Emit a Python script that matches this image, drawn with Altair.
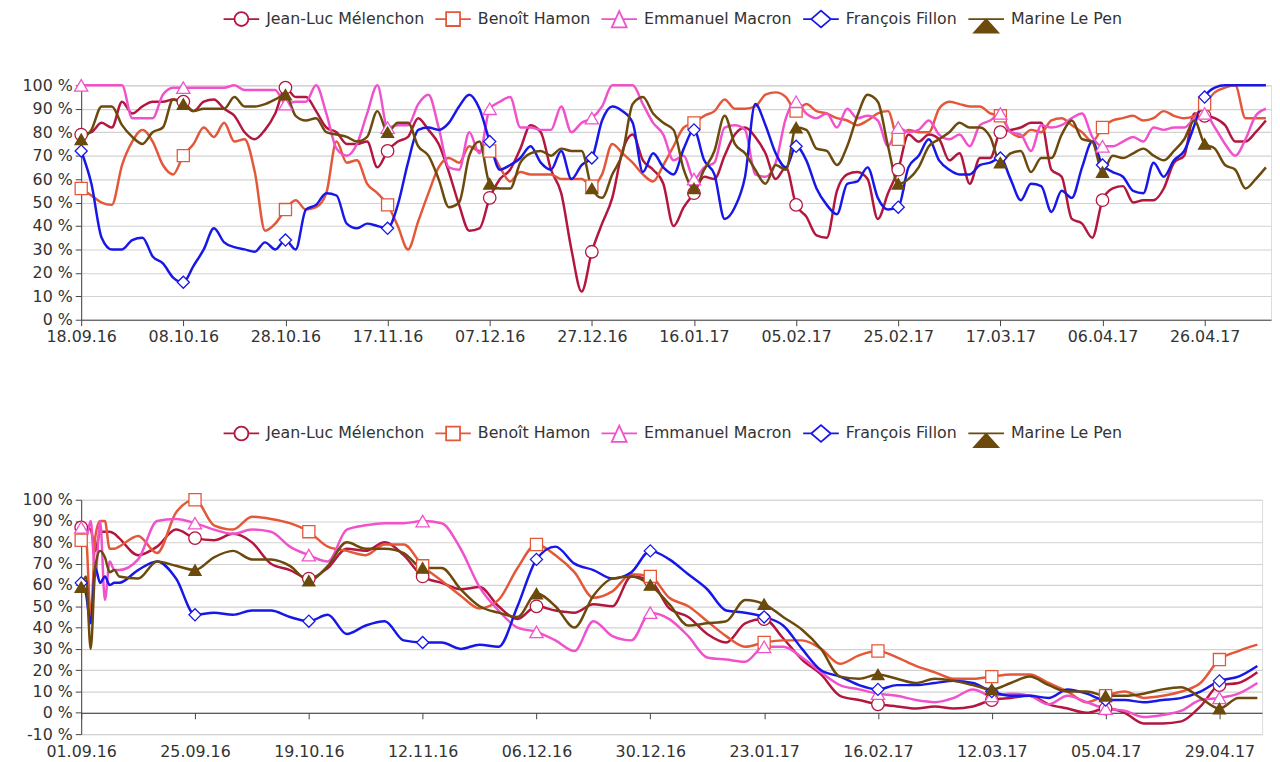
import altair as alt
import pandas as pd

NAMES = ["Jean-Luc Mélenchon", "Benoît Hamon", "Emmanuel Macron", "François Fillon", "Marine Le Pen"]
COLORS = ["#b3163f", "#e4583a", "#f052cc", "#1717e8", "#6b4a0c"]
FILLS = ["white", "white", "white", "white", "#6b4a0c"]
MARK_SHAPES = ["circle", "square", "triangle-up", "diamond", "triangle-up"]
MARK_SIZES = [160, 150, 180, 150, 150]

# ---------------- top panel (every 2 days from 18.09.16) ----------------
TOP_START = "2016-09-18"
TOP_END = "2017-05-09"
TOP_DAYS = list(range(0, 233, 2))
TOP_TICKS = ["2016-09-18", "2016-10-08", "2016-10-28", "2016-11-17", "2016-12-07", "2016-12-27",
             "2017-01-16", "2017-02-05", "2017-02-25", "2017-03-17", "2017-04-06", "2017-04-26"]
TOP_MARK_EVERY = 20

top_melenchon = [79, 80, 84, 82, 93, 88, 91, 93, 93, 94, 93, 89, 93, 94, 90, 87, 80, 77, 81, 88, 99, 95, 95, 89, 82,
                 80, 75, 75, 76, 65, 72, 76, 78, 86, 81, 75, 63, 49, 38, 39, 52, 60, 64, 73, 83, 80, 64, 54, 30, 12, 29, 41, 52, 72, 79, 68,
                 64, 58, 40, 48, 54, 61, 60, 70, 79, 82, 78, 71, 60, 65, 49, 44, 36, 35, 55, 62, 63, 60, 43, 54, 64, 79, 76, 79, 77, 68, 71,
                 58, 69, 69, 80, 81, 82, 84, 84, 64, 61, 43, 41, 35, 51, 56, 57, 50, 51, 51, 56, 67, 70, 88, 87, 86, 83, 76, 76, 80, 85]
top_hamon = [56, 53, 50, 49, 66, 76, 81, 76, 66, 62, 70, 75, 82, 78, 84, 76, 77, 63, 38, 41, 47, 51, 47, 48, 54,
             76, 67, 68, 58, 54, 49, 40, 30, 42, 54, 65, 69, 67, 74, 72, 72, 65, 59, 63, 62, 62, 62, 60, 60, 60, 57, 62, 75, 71, 67, 62,
             59, 66, 74, 82, 84, 87, 89, 94, 90, 90, 91, 96, 97, 95, 89, 92, 89, 88, 86, 85, 83, 85, 88, 89, 77, 81, 80, 80, 90, 93, 92,
             91, 91, 88, 87, 80, 78, 81, 80, 85, 86, 83, 80, 76, 82, 85, 86, 87, 85, 86, 89, 87, 86, 87, 92, 97, 99, 100, 86, 86, 86]
top_macron = [100, 100, 100, 100, 100, 86, 86, 86, 96, 99, 99, 99, 99, 99, 99, 100, 98, 98, 98, 98, 92, 93, 93, 100, 88,
              73, 70, 75, 88, 100, 82, 83, 83, 92, 96, 82, 65, 64, 80, 71, 90, 93, 95, 82, 82, 81, 81, 91, 80, 84, 86, 91, 100, 100, 100, 92,
              84, 79, 68, 70, 60, 65, 67, 82, 83, 81, 62, 61, 67, 86, 93, 88, 86, 88, 82, 90, 86, 87, 85, 74, 82, 80, 81, 85, 79, 77, 79,
              74, 83, 85, 88, 80, 79, 72, 83, 82, 83, 86, 88, 78, 74, 74, 76, 78, 76, 82, 81, 82, 82, 86, 88, 82, 75, 70, 77, 87, 90]
top_fillon = [72, 58, 35, 30, 30, 34, 35, 27, 24, 18, 16, 23, 30, 39, 33, 31, 30, 29, 33, 30, 34, 30, 47, 49, 54,
              53, 41, 39, 41, 40, 39, 49, 67, 81, 82, 81, 84, 91, 96, 90, 76, 64, 66, 69, 74, 67, 64, 72, 60, 66, 69, 85, 91, 89, 84, 63,
              71, 65, 62, 73, 81, 68, 62, 43, 48, 61, 92, 83, 71, 65, 74, 68, 56, 49, 45, 58, 59, 65, 52, 47, 48, 65, 70, 77, 68, 64, 62,
              62, 66, 67, 69, 60, 51, 58, 57, 46, 55, 52, 65, 76, 66, 63, 61, 55, 54, 67, 61, 68, 72, 83, 95, 99, 100, 100, 100, 100, 100]
top_lepen = [77, 81, 91, 91, 83, 78, 75, 80, 82, 94, 92, 89, 90, 90, 90, 95, 91, 91, 92, 94, 96, 87, 85, 86, 80,
             79, 78, 76, 78, 89, 80, 84, 84, 74, 70, 60, 48, 50, 70, 76, 58, 56, 56, 67, 71, 72, 70, 73, 72, 72, 56, 52, 62, 71, 92, 95,
             88, 84, 81, 64, 56, 64, 72, 87, 75, 71, 64, 58, 66, 64, 82, 81, 73, 72, 66, 74, 87, 96, 93, 74, 58, 60, 65, 74, 77, 80, 84,
             82, 82, 78, 67, 71, 72, 63, 69, 69, 79, 85, 77, 76, 63, 70, 69, 71, 73, 70, 68, 72, 77, 85, 75, 73, 66, 64, 56, 60, 65]

# ---------------- bottom panel (from 01.09.16) ----------------
BOT_START = "2016-09-01"
BOT_END = "2017-05-08"
BOT_DAYS = [0, 1, 2, 3, 4, 5, 6, 7, 8] + list(range(12, 249, 4))
BOT_TICKS = ["2016-09-01", "2016-09-25", "2016-10-19", "2016-11-12", "2016-12-06", "2016-12-30",
             "2017-01-23", "2017-02-16", "2017-03-12", "2017-04-05", "2017-04-29"]
BOT_MARK_EVERY = 24

bot_melenchon = [87, 87, 86, 76, 85, 85, 85, 84, 82,
                 74, 78, 86, 82, 81, 84, 80, 70, 67, 63,
                 68, 77, 76, 80, 74, 64, 61, 58, 59, 50, 44, 50, 48, 47, 51, 50, 64,
                 62, 49, 45, 37, 33, 42, 44, 35, 25, 18, 8, 6, 4, 3, 2, 3, 2,
                 3, 6, 7, 8, 4, 2, 0, 2, 0, -5, -5, -4, 3, 13, 14, 19]
bot_hamon = [81, 82, 45, 83, 90, 90, 77, 77, 78,
             83, 75, 94, 100, 88, 86, 92, 91, 89, 85,
             78, 76, 74, 79, 79, 69, 62, 55, 49, 53, 68, 79, 74, 66, 54, 57, 65,
             64, 54, 50, 43, 36, 31, 33, 34, 34, 30, 23, 27, 29, 26, 22, 19, 16,
             16, 17, 18, 18, 14, 10, 5, 8, 10, 7, 8, 10, 14, 25, 29, 32]
bot_macron = [87, 82, 90, 64, 90, 53, 71, 67, 67,
              72, 90, 91, 89, 86, 84, 86, 85, 78, 74,
              71, 86, 88, 89, 89, 90, 89, 77, 59, 48, 40, 38, 34, 29, 43, 36, 34,
              47, 44, 36, 26, 25, 24, 31, 31, 26, 19, 13, 11, 9, 8, 6, 5, 7,
              11, 8, 9, 8, 4, 8, 5, 2, 1, -2, -1, 1, 6, 7, 9, 14]
bot_fillon = [61, 56, 42, 68, 61, 64, 60, 61, 61,
              67, 71, 63, 46, 47, 46, 48, 48, 45, 43,
              46, 37, 41, 43, 34, 33, 33, 30, 32, 31, 50, 72, 78, 70, 67, 63, 66,
              76, 72, 65, 58, 48, 47, 45, 41, 30, 20, 17, 13, 11, 13, 13, 14, 15,
              14, 10, 8, 8, 7, 11, 9, 6, 6, 5, 6, 7, 10, 15, 17, 22]
bot_lepen = [59, 64, 30, 69, 76, 73, 66, 67, 64,
             63, 71, 69, 67, 73, 76, 72, 72, 69, 62,
             69, 80, 77, 77, 75, 68, 68, 58, 50, 47, 45, 56, 50, 40, 55, 63, 64,
             60, 51, 41, 42, 43, 53, 51, 45, 39, 30, 17, 16, 18, 16, 14, 16, 15,
             13, 11, 14, 17, 13, 10, 10, 8, 8, 9, 11, 12, 7, 2, 7, 7]

TOP_SERIES = [top_melenchon, top_hamon, top_macron, top_fillon, top_lepen]
BOT_SERIES = [bot_melenchon, bot_hamon, bot_macron, bot_fillon, bot_lepen]

FONT = "DejaVu Sans"


def tri_path(apex, left, right, center, scales):
    parts = []
    for s in scales:
        pts = [(center[0] + s * (x - center[0]), center[1] + s * (y - center[1])) for (x, y) in (apex, right, left)]
        parts.append("M{:.3f},{:.3f}L{:.3f},{:.3f}L{:.3f},{:.3f}Z".format(*pts[0], *pts[1], *pts[2]))
    return "".join(parts)


# every legend glyph gets the same vertical extent (invisible move-to points)
EXTENT = "M0,-0.8M0,0.8"
LEGEND_PATHS = [
    EXTENT + "M-1,0L-0.39,0M0.39,0L1,0M0.39,0A0.39,0.39 0 1,1 -0.39,0A0.39,0.39 0 1,1 0.39,0Z",
    EXTENT + "M-1,0L-0.39,0M0.39,0L1,0M-0.39,-0.39L0.39,-0.39L0.39,0.39L-0.39,0.39Z",
    EXTENT + "M-1,0L-0.21,0M0.21,0L1,0M0,-0.44L0.42,0.47L-0.42,0.47Z",
    EXTENT + "M-1,0L-0.55,0M0.55,0L1,0M-0.55,0L0,-0.47L0.55,0L0,0.47Z",
    EXTENT + "M-1,0L1,0" + tri_path((0, 0.02), (-0.67, 0.76), (0.67, 0.76), (0, 0.46), [1, 0.78, 0.56, 0.34, 0.12]),
]


def to_dt(s):
    y, m, d = (int(p) for p in s.split("-"))
    return alt.DateTime(year=y, month=m, date=d, utc=True)


def build(start, days, series, every):
    rows = []
    base = pd.Timestamp(start)
    for name, vals in zip(NAMES, series):
        assert len(vals) == len(days), (name, len(vals), len(days))
        for d, v in zip(days, vals):
            rows.append({"date": (base + pd.Timedelta(days=d)).strftime("%Y-%m-%d"),
                         "series": name, "value": v, "marker": int(d % every == 0)})
    return pd.DataFrame(rows)


def panel(df, start, end, ticks, ymin, width, extent, x_offset, x_labelpad):
    xenc = alt.X("date:T",
                 scale=alt.Scale(type="utc", domain=[to_dt(start), to_dt(end)]),
                 axis=alt.Axis(values=[to_dt(t) for t in ticks],
                               labelExpr="utcFormat(datum.value, '%d.%m.%y')",
                               title=None, grid=False, labelFont=FONT, labelFontSize=16, labelColor="#333",
                               tickColor="#444", domainColor="#444", tickSize=6, labelPadding=x_labelpad,
                               offset=x_offset, labelOverlap=False, labelFlush=False))
    yenc = alt.Y("value:Q",
                 scale=alt.Scale(domain=[ymin, 100], nice=False, zero=False),
                 axis=alt.Axis(values=list(range(ymin, 101, 10)), labelExpr="datum.value + ' %'",
                               title=None, grid=True, gridColor="#d2d2d2", gridWidth=1.2,
                               labelFont=FONT, labelFontSize=16, labelColor="#333",
                               tickColor="#444", domainColor="#444", tickSize=6, labelPadding=3,
                               minExtent=extent, maxExtent=extent))
    stroke_scale = alt.Scale(domain=NAMES, range=COLORS)
    leg = alt.Legend(orient="none", legendX=143, legendY=-86, direction="horizontal", columns=5,
                     title=None, symbolSize=1296, symbolStrokeWidth=1.8, symbolOpacity=1,
                     symbolFillColor="white", labelFont=FONT, labelFontSize=16, labelColor="#333",
                     labelOffset=6, columnPadding=7, padding=0)
    base = alt.Chart(df)
    lines = base.mark_line(strokeWidth=2.5, interpolate="monotone").encode(
        x=xenc, y=yenc,
        stroke=alt.Stroke("series:N", scale=stroke_scale, legend=leg, sort=NAMES))
    markers = []
    for name, col, fil, shp, sz in zip(NAMES, COLORS, FILLS, MARK_SHAPES, MARK_SIZES):
        markers.append(
            base.mark_point(shape=shp, size=sz, filled=True, fill=fil, stroke=col, strokeWidth=1.3, opacity=1)
            .encode(x=xenc, y=yenc)
            .transform_filter((alt.datum.series == name) & (alt.datum.marker == 1)))
    legend_layer = base.mark_point(filled=False, fill="white", opacity=0).encode(
        x=xenc, y=yenc,
        stroke=alt.Stroke("series:N", scale=stroke_scale, legend=leg, sort=NAMES),
        shape=alt.Shape("series:N", scale=alt.Scale(domain=NAMES, range=LEGEND_PATHS), legend=leg, sort=NAMES),
    ).transform_filter(alt.datum.marker == 1)
    return alt.layer(lines, *markers, legend_layer).properties(width=width, height=237)


df_top = build(TOP_START, TOP_DAYS, TOP_SERIES, TOP_MARK_EVERY)
df_bot = build(BOT_START, BOT_DAYS, BOT_SERIES, BOT_MARK_EVERY)

top = panel(df_top, TOP_START, TOP_END, TOP_TICKS, 0, 1203, 64, 0, 3)
bottom = panel(df_bot, BOT_START, BOT_END, BOT_TICKS, -10, 1194, 73, -21.5, 25)

chart = (alt.concat(top, bottom, columns=1, spacing=69, align="none")
         .resolve_scale(x="independent", y="independent", stroke="independent", shape="independent")
         .resolve_legend(stroke="independent", shape="independent")
         .properties(padding={"left": 0, "top": -13, "right": 0, "bottom": 0})
         .configure_view(stroke=None)
         .configure(font=FONT))

chart.save("out.html", embed_options={"renderer": "svg", "actions": False})
